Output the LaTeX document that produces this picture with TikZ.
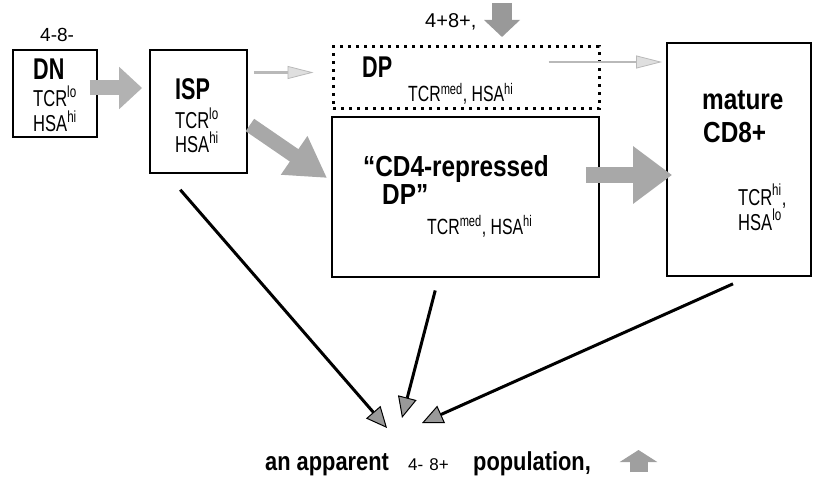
\documentclass[tikz,border=0pt]{standalone}
\usepackage{fontspec}
\setmainfont{Liberation Sans}
\newfontfamily\narrowfont[FakeStretch=0.72]{Liberation Sans}
\newfontfamily\heavyfont[FakeStretch=0.84]{Liberation Sans Bold}
\newfontfamily\heavynarrow[FakeStretch=0.72]{Liberation Sans Bold}
\usetikzlibrary{arrows.meta,calc}
\newcommand\fs[1]{\fontsize{#1}{#1}\selectfont}
\tikzset{
  cell/.style={draw, line width=1.8pt, inner sep=0pt},
  dottedcell/.style={cell, line width=3pt, dash pattern=on 3pt off 5pt},
  lbl/.style={anchor=base west, inner sep=0pt, font=\narrowfont\fs{23}},
  bigarrow/.style={draw=gray!68, line width=15pt, -{Triangle[length=23pt,width=41pt]}},
  thinarrow/.style={draw=gray!55, line width=2.5pt, -{Triangle[length=26pt,width=13pt,line width=0.8pt,fill=gray!25]}},
  outarrow/.style={line width=3pt, -{Triangle[length=21pt,width=19pt,line width=1pt,fill=gray!80]}}
}
\begin{document}
\begin{tikzpicture}[x=1pt, y=-1pt]
	\useasboundingbox (0,0) rectangle (818,481);
	\node[cell, minimum width=84pt, minimum height=87pt] (dn) at (55,93.5) {};
	\node[cell, minimum width=97pt, minimum height=123pt] (isp) at (198.5,111.5) {};
	\node[dottedcell, minimum width=266pt, minimum height=62pt] (dp) at (466,78) {};
	\node[cell, minimum width=267pt, minimum height=160pt] (cd4) at (465.5,197) {};
	\node[cell, minimum width=144pt, minimum height=233pt] (mature) at (739,159.5) {};
	\node[lbl, font=\fs{19}] (dnlabel) at (40,42) {4-8-};
	\node[lbl, font=\heavynarrow\fs{30}] (dnname) at (33,80) {DN};
	\node[lbl] (dntcr) at (33,107) {TCR\textsuperscript{lo}};
	\node[lbl] (dnhsa) at (33,132) {HSA\textsuperscript{hi}};
	\node[lbl, font=\heavynarrow\fs{30}] (ispname) at (175,100) {ISP};
	\node[lbl] (isptcr) at (175,129) {TCR\textsuperscript{lo}};
	\node[lbl] (isphsa) at (175,153) {HSA\textsuperscript{hi}};
	\node[lbl, font=\fs{20}] (dplabel) at (425,28) {4+8+,};
	\node[lbl, font=\heavynarrow\fs{30}] (dpname) at (362,78) {DP};
	\node[lbl, font=\narrowfont\fs{22}] (dpmarks) at (408,102) {TCR\textsuperscript{med}, HSA\textsuperscript{hi}};
	\node[lbl, font=\heavyfont\fs{29}] (cdname) at (363,176) {“CD4-repressed};
	\node[lbl, font=\heavyfont\fs{29}] (cdname2) at (382,204) {DP”};
	\node[lbl, font=\narrowfont\fs{22}] (cdmarks) at (427,234) {TCR\textsuperscript{med}, HSA\textsuperscript{hi}};
	\node[lbl, font=\heavyfont\fs{29}] (matname) at (702,110) {mature};
	\node[lbl, font=\heavyfont\fs{29}] (matname2) at (703,143) {CD8+};
	\node[lbl] (mattcr) at (738,205) {TCR\textsuperscript{hi},};
	\node[lbl] (mathsa) at (738,230) {HSA\textsuperscript{lo}};
	\node[lbl, font=\heavyfont\fs{26}] (popa) at (265,470) {an apparent};
	\node[lbl, font=\fs{17}] (popb) at (408,470) {4-\hspace{6pt}8+};
	\node[lbl, font=\heavyfont\fs{26}] (popc) at (473,470) {population,};
	\coordinate (tipa) at (387,428);
	\coordinate (tipb) at (402,418);
	\coordinate (tipc) at (422,423);
	\draw[bigarrow, draw=gray!60] ($(dn.east)+(-8,-5.5)$) -- ($(isp.west)+(-7,-23.5)$);
	\draw[bigarrow, -{Triangle[length=40pt,width=44pt]}] ($(isp.east)+(2,13.5)$) -- ($(cd4.west)+(-4,-19)$);
	\draw[bigarrow, line width=16pt, -{Triangle[length=39pt,width=55pt]}] ($(cd4.east)+(-14,-22)$) -- ($(mature.west)+(6,15.5)$);
	\draw[thinarrow] ($(isp.east)+(6,-39)$) -- ($(dp.west)+(-18,-5.5)$);
	\draw[thinarrow] ($(dp.east)+(-52,-16)$) -- ($(mature.west)+(-4,-97.5)$);
	\draw[outarrow, shorten <=21pt] ($(isp.south)+(-32,0)$) -- (tipa);
	\draw[outarrow, shorten <=13pt] ($(cd4.south)+(-27,0)$) -- (tipb);
	\draw[outarrow, shorten <=17pt] ($(mature.south)+(9.5,0)$) -- (tipc);
	\draw[draw=gray!80, line width=20pt, -{Triangle[length=17pt,width=35pt]}] (502,3) -- (502,37);
	\draw[draw=gray!75, line width=18pt, -{Triangle[length=12pt,width=37pt]}] (638.5,472) -- (638.5,450);
\end{tikzpicture}
\end{document}
